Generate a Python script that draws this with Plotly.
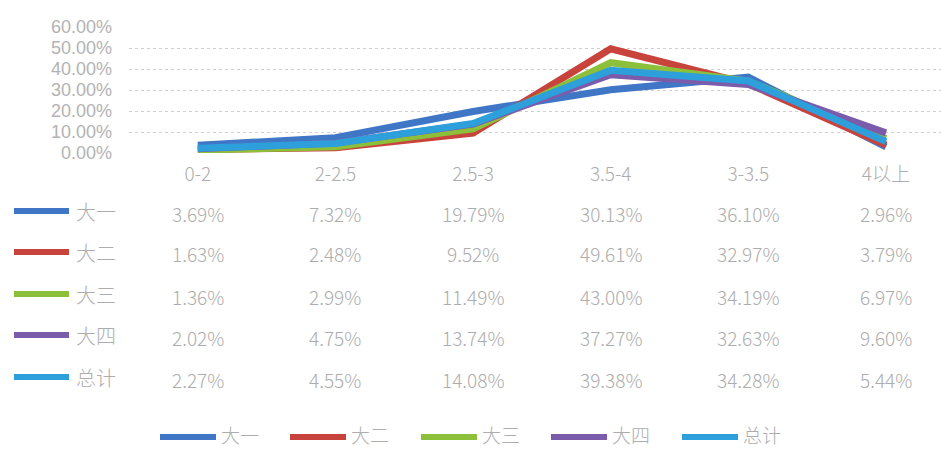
import plotly.graph_objects as go

categories = ["0-2", "2-2.5", "2.5-3", "3.5-4", "3-3.5", "4以上"]
series_names = ["大一", "大二", "大三", "大四", "总计"]
s_dayi = [3.69, 7.32, 19.79, 30.13, 36.10, 2.96]
s_daer = [1.63, 2.48, 9.52, 49.61, 32.97, 3.79]
s_dasan = [1.36, 2.99, 11.49, 43.00, 34.19, 6.97]
s_dasi = [2.02, 4.75, 13.74, 37.27, 32.63, 9.60]
s_total = [2.27, 4.55, 14.08, 39.38, 34.28, 5.44]
y_ticks = [0, 10, 20, 30, 40, 50, 60]
y_tick_labels = ["0.00%", "10.00%", "20.00%", "30.00%", "40.00%", "50.00%", "60.00%"]

series_values = [s_dayi, s_daer, s_dasan, s_dasi, s_total]
colors = ["#3F76C6", "#C9433D", "#8DC03A", "#7B5CAA", "#2D9FDB"]

W, H = 941, 449
FONT = "Noto Sans CJK SC, Noto Sans, sans-serif"
TXT = "#adadad"

def px(x):
    return x / W

def py(y):
    return (H - y) / H

fig = go.Figure()
xs = list(range(len(categories)))
for name, vals, c in zip(series_names, series_values, colors):
    fig.add_trace(go.Scatter(x=xs, y=vals, mode="lines", name=name,
                             line=dict(color=c, width=7), showlegend=False))

annotations = []
shapes = []
# data table under the chart
row_y = [211, 252, 294, 335, 377]
for r, (name, vals, c) in enumerate(zip(series_names, series_values, colors)):
    yy = py(row_y[r])
    shapes.append(dict(type="line", xref="paper", yref="paper",
                       x0=px(14), x1=px(69), y0=yy, y1=yy,
                       line=dict(color=c, width=6)))
    annotations.append(dict(text=name, xref="paper", yref="paper",
                            x=px(74), y=yy, xanchor="left", yanchor="middle",
                            showarrow=False, font=dict(size=20, color=TXT, weight=300)))
    for i, v in enumerate(vals):
        annotations.append(dict(text=f"{v:.2f}%", xref="x", yref="paper",
                                x=i, y=py(row_y[r] + 2), xanchor="center",
                                yanchor="middle", showarrow=False,
                                font=dict(size=19, color=TXT, weight=300)))

# bottom legend
leg_x = [160, 290, 421, 551, 682]
for name, c, lx in zip(series_names, colors, leg_x):
    shapes.append(dict(type="line", xref="paper", yref="paper",
                       x0=px(lx), x1=px(lx + 56), y0=py(437), y1=py(437),
                       line=dict(color=c, width=6)))
    annotations.append(dict(text=name, xref="paper", yref="paper",
                            x=px(lx + 59), y=py(434), xanchor="left", yanchor="middle",
                            showarrow=False, font=dict(size=19, color=TXT, weight=300)))

fig.update_layout(
    width=W, height=H,
    margin=dict(l=0, r=0, t=0, b=0, pad=0, autoexpand=False),
    paper_bgcolor="white", plot_bgcolor="white",
    font=dict(family=FONT, color=TXT, size=19, weight=300),
    annotations=annotations, shapes=shapes,
    xaxis=dict(domain=[px(129), 1], range=[-0.5, 5.4], automargin=False,
               tickvals=xs, ticktext=categories, showgrid=False,
               zeroline=False, showline=False, ticks="",
               ticklabelstandoff=8, tickfont=dict(size=19, color=TXT, weight=300)),
    yaxis=dict(domain=[py(153), py(27)], range=[0, 60], automargin=False,
               tickvals=y_ticks, ticktext=y_tick_labels,
               showgrid=True, gridcolor="#cfcfcf", griddash="dot", gridwidth=1,
               zeroline=True, zerolinecolor="white", showline=False,
               ticks="", ticklabelstandoff=16,
               tickfont=dict(family="Liberation Sans", size=18, color="#b3b3b3")),
)

fig.write_html("out.html", config={"displayModeBar": False},
               post_script="document.body.style.margin='0';")
